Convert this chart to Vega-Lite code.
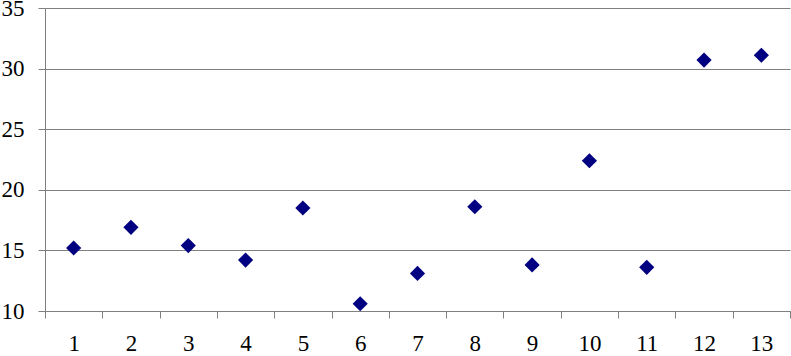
{
  "$schema": "https://vega.github.io/schema/vega-lite/v6.json",
  "autosize": "none",
  "width": 745,
  "height": 303,
  "padding": {"left": 45, "top": 8, "right": 1, "bottom": 45},
  "background": "white",
  "config": {"view": {"stroke": null}},
  "data": {"values": [
    {"x": "1", "y": 15.2},
    {"x": "2", "y": 16.9},
    {"x": "3", "y": 15.4},
    {"x": "4", "y": 14.2},
    {"x": "5", "y": 18.5},
    {"x": "6", "y": 10.6},
    {"x": "7", "y": 13.1},
    {"x": "8", "y": 18.6},
    {"x": "9", "y": 13.8},
    {"x": "10", "y": 22.4},
    {"x": "11", "y": 13.6},
    {"x": "12", "y": 30.7},
    {"x": "13", "y": 31.1}
  ]},
  "mark": {"type": "point", "shape": "diamond", "filled": true, "color": "#000080", "size": 230, "opacity": 1},
  "encoding": {
    "x": {
      "field": "x", "type": "ordinal", "sort": null,
      "scale": {"type": "band", "paddingInner": 0, "paddingOuter": 0},
      "axis": {
        "title": null, "labelAngle": 0, "grid": false,
        "tickBand": "extent", "tickSize": 7, "tickColor": "#808080",
        "domainColor": "#808080", "labelFont": "Liberation Serif",
        "labelFontSize": 23, "labelColor": "black", "labelPadding": 14
      }
    },
    "y": {
      "field": "y", "type": "quantitative",
      "scale": {"domain": [10, 35], "nice": false, "zero": false},
      "axis": {
        "title": null, "values": [10, 15, 20, 25, 30, 35],
        "grid": true, "gridColor": "#808080", "gridOpacity": 1,
        "tickSize": 7, "tickColor": "#808080", "domainColor": "#808080",
        "labelFont": "Liberation Serif", "labelFontSize": 23,
        "labelColor": "black", "labelPadding": 14
      }
    }
  }
}
